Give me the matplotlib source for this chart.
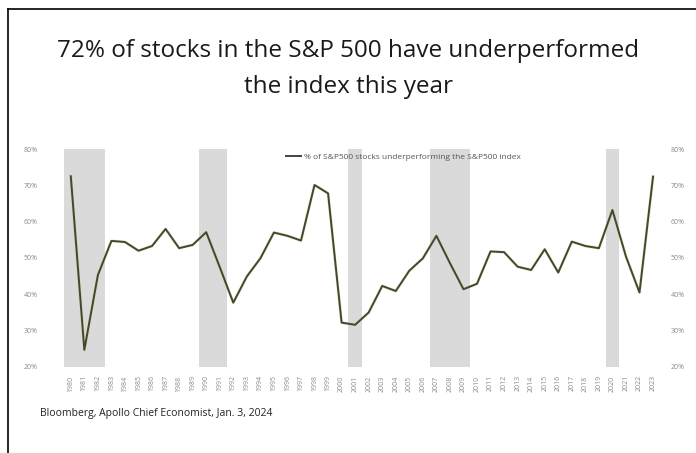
import matplotlib
matplotlib.use("Agg")
import matplotlib.pyplot as plt
from matplotlib.lines import Line2D

plt.rcParams['font.family'] = ['Open Sans', 'DejaVu Sans']

years = list(range(1980, 2024))
pct_under = [72.5, 24.7, 45.3, 54.7, 54.4, 52.0, 53.3, 58.0, 52.7, 53.6,
             57.1, 47.5, 37.7, 44.9, 49.9, 57.0, 56.1, 54.8, 70.1, 67.8,
             32.2, 31.6, 35.0, 42.3, 40.9, 46.5, 49.9, 56.1, 48.6, 41.4,
             42.9, 51.8, 51.6, 47.6, 46.7, 52.4, 46.0, 54.5, 53.3, 52.7,
             63.2, 50.4, 40.5, 72.4]
# recession periods (first year, last year)
recessions = [(1980, 1982), (1990, 1991), (2001, 2001), (2007, 2009), (2020, 2020)]
yticks = [20, 30, 40, 50, 60, 70, 80]
ytick_labels = [f"{v}%" for v in yticks]

fig = plt.figure(figsize=(6.96, 4.53), dpi=100)
ax = fig.add_axes([0.092, 0.19, 0.856, 0.481])

for start, end in recessions:
    ax.axvspan(start - 0.5, end + 0.5, color='#dadada', lw=0, zorder=0)

line_color = '#44443a'
ax.plot(years, pct_under, color='#c9cc3a', lw=2.2, alpha=0.35, zorder=2)
ax.plot(years, pct_under, color=line_color, lw=1.4, zorder=3,
        label='% of S&P500 stocks underperforming the S&P500 index')

ax.set_xlim(1979.5, 2023.5)
ax.set_ylim(20, 80)
ax.set_yticks(yticks)
ax.set_yticklabels(ytick_labels)
ax.set_xticks(years)
ax.set_xticklabels([str(y) for y in years], rotation=90)
ax.tick_params(axis='both', length=0, labelsize=5, colors='#8a8a8a')
ax.tick_params(axis='x', pad=6)
ax.tick_params(axis='y', pad=19)
for s in ax.spines.values():
    s.set_visible(False)

# same scale repeated on the right side
ax_r = ax.twinx()
ax_r.set_ylim(ax.get_ylim())
ax_r.set_yticks(yticks)
ax_r.set_yticklabels(ytick_labels)
ax_r.tick_params(axis='y', length=0, labelsize=5, colors='#8a8a8a', pad=8)
for s in ax_r.spines.values():
    s.set_visible(False)

ax.legend(loc='center', bbox_to_anchor=(0.57, 0.963), frameon=False,
          fontsize=6, handlelength=1.8, labelcolor='#555555', handletextpad=0.4)

fig.text(0.5, 0.887, '72% of stocks in the S&P 500 have underperformed',
         ha='center', va='center', fontsize=17.5, color='#1a1a1a')
fig.text(0.5, 0.807, 'the index this year',
         ha='center', va='center', fontsize=17.5, color='#1a1a1a')

fig.text(0.057, 0.088, 'Bloomberg, Apollo Chief Economist, Jan. 3, 2024',
         ha='left', va='center', fontsize=7.5, color='#222222')

# thin frame on the top and left edges
fig.add_artist(Line2D([0.0115, 0.0115], [0, 0.98], color='black', lw=1.2,
                      transform=fig.transFigure))
fig.add_artist(Line2D([0.0115, 1.0], [0.98, 0.98], color='black', lw=1.2,
                      transform=fig.transFigure))

fig.savefig('out.png', dpi=100)
